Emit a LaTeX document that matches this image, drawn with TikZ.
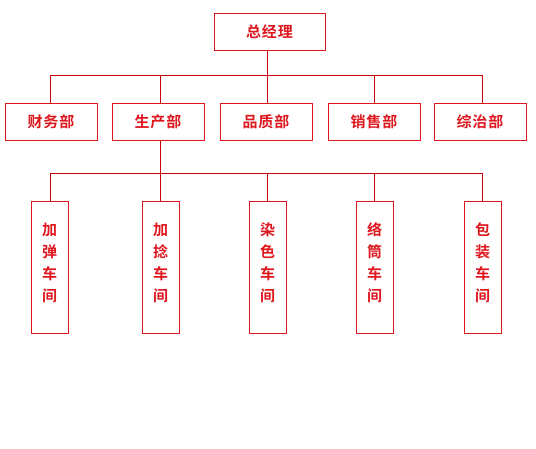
\documentclass[tikz,border=0pt]{standalone}
\usepackage{fontspec}
\newfontfamily\cjk{Noto Sans CJK SC}[BoldFont={Noto Sans CJK SC Bold}]
\definecolor{orgred}{RGB}{222,22,30}
\definecolor{linered}{RGB}{204,0,10}
\begin{document}
\begin{tikzpicture}[x=1pt,y=-1pt,
  boxfont/.style={text=orgred, font={\cjk\bfseries\fontsize{15}{22}\selectfont}},
  box/.style={draw=orgred, line width=1pt, rectangle, inner sep=0pt, boxfont},
  hbox/.style={box, minimum width=92pt, minimum height=37pt},
  vbox/.style={box, minimum width=37pt, minimum height=132pt},
  vtext/.style={boxfont, align=center, inner sep=0pt, yshift=4.5pt},
  conn/.style={draw=linered, line width=1pt}]
\useasboundingbox (0,0) rectangle (536,448);
\node[hbox, minimum width=111pt] (top) at (269.5,31.5) {总\kern1pt 经\kern1pt 理};
\node[hbox] (cw) at (51,121.5) {财\kern1pt 务\kern1pt 部};
\node[hbox] (sc) at (158,121.5) {生\kern1pt 产\kern1pt 部};
\node[hbox] (pz) at (266,121.5) {品\kern1pt 质\kern1pt 部};
\node[hbox] (xs) at (374,121.5) {销\kern1pt 售\kern1pt 部};
\node[hbox] (zz) at (480,121.5) {综\kern1pt 治\kern1pt 部};
\node[vbox, label={[vtext]center:{加\\弹\\车\\间}}] (w1) at (49.5,267) {};
\node[vbox, label={[vtext]center:{加\\捻\\车\\间}}] (w2) at (160.5,267) {};
\node[vbox, label={[vtext]center:{染\\色\\车\\间}}] (w3) at (267.5,267) {};
\node[vbox, label={[vtext]center:{络\\筒\\车\\间}}] (w4) at (374.5,267) {};
\node[vbox, label={[vtext]center:{包\\装\\车\\间}}] (w5) at (482.5,267) {};
\coordinate (b1) at (267,75);
\coordinate (b2) at (160,173);
% level 1
\draw[conn] (top.south -| b1) -- (b1);
\draw[conn] (50,75) -- (482,75);
\foreach \n/\x in {cw/50,sc/160,pz/267,xs/374,zz/482}
  \draw[conn] (\x,75) -- (\n.north -| \x,0);
% level 2
\draw[conn] (sc.south -| b2) -- (b2);
\draw[conn] (50,173) -- (482,173);
\foreach \n/\x in {w1/50,w2/160,w3/267,w4/374,w5/482}
  \draw[conn] (\x,173) -- (\n.north -| \x,0);
\end{tikzpicture}
\end{document}
